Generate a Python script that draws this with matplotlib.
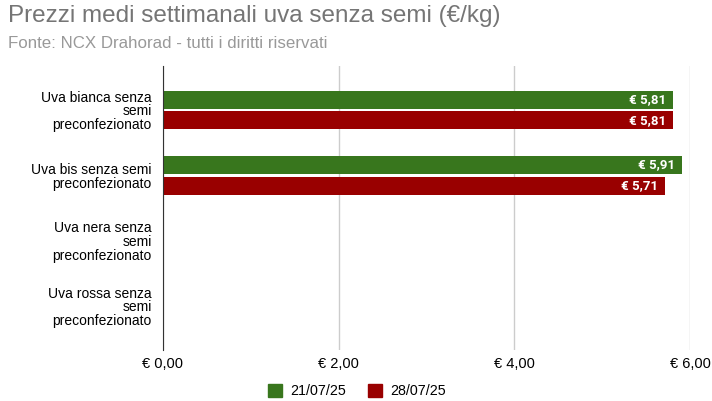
import numpy as np
import matplotlib
matplotlib.use("Agg")
from matplotlib import pyplot as plt
from matplotlib.patches import Patch

plt.rcParams['font.family'] = ['Liberation Sans', 'DejaVu Sans']

## dati ##
categorie = ["Uva bianca senza\nsemi\npreconfezionato",
             "Uva bis senza semi\npreconfezionato",
             "Uva nera senza\nsemi\npreconfezionato",
             "Uva rossa senza\nsemi\npreconfezionato"]
settimane = ["21/07/25", "28/07/25"]
prezzi_21 = [5.81, 5.91, np.nan, np.nan]
prezzi_28 = [5.81, 5.71, np.nan, np.nan]
tick_x = [0, 2, 4, 6]
colori = ["#38761d", "#990000"]

fig = plt.figure(figsize=(7.12, 4.01), dpi=100)
ax = fig.add_axes([163/712, 1-350/401, 527/712, 284/401])

y = np.arange(len(categorie))
h = 0.275
off = 0.16
for serie, dy, col in [(prezzi_21, -off, colori[0]), (prezzi_28, off, colori[1])]:
    bars = ax.barh(y + dy, serie, height=h, color=col, zorder=3)
    for b, v in zip(bars, serie):
        if np.isnan(v):
            continue
        ax.text(v - 0.08, b.get_y() + b.get_height()/2,
                "€ " + f"{v:.2f}".replace(".", ","),
                ha="right", va="center", color="white", fontsize=9.5,
                fontweight="bold", family=["Roboto", "DejaVu Sans"], zorder=4)

ax.set_xlim(0, 6)
ax.set_ylim(3.673, -0.673)
ax.set_yticks(y)
ax.set_yticklabels(categorie, fontsize=10, linespacing=0.98)
ax.set_xticks(tick_x)
ax.set_xticklabels(["€ " + f"{t:.2f}".replace(".", ",") for t in tick_x], fontsize=10.5)
ax.tick_params(axis="y", length=0, pad=8)
ax.tick_params(axis="x", length=0, pad=5)
ax.grid(axis="x", color="#cccccc", linewidth=1, zorder=0)
for s in ["top", "right", "bottom"]:
    ax.spines[s].set_visible(False)
ax.spines["left"].set_color("#333333")
ax.spines["left"].set_zorder(5)

fig.text(8/712, 1-16/401, "Prezzi medi settimanali uva senza semi (€/kg)",
         fontsize=17.5, color="#757575", va="center")
fig.text(8/712, 1-44/401, "Fonte: NCX Drahorad - tutti i diritti riservati",
         fontsize=12.2, color="#999999", va="center")

handles = [Patch(color=c, label=l) for c, l in zip(colori, settimane)]
fig.legend(handles=handles, loc="center", bbox_to_anchor=(357/712, 1-391/401),
           ncol=2, frameon=False, fontsize=10.3, handlelength=1, handleheight=1,
           columnspacing=1.5, handletextpad=0.6)

fig.savefig("out.png", dpi=100)
